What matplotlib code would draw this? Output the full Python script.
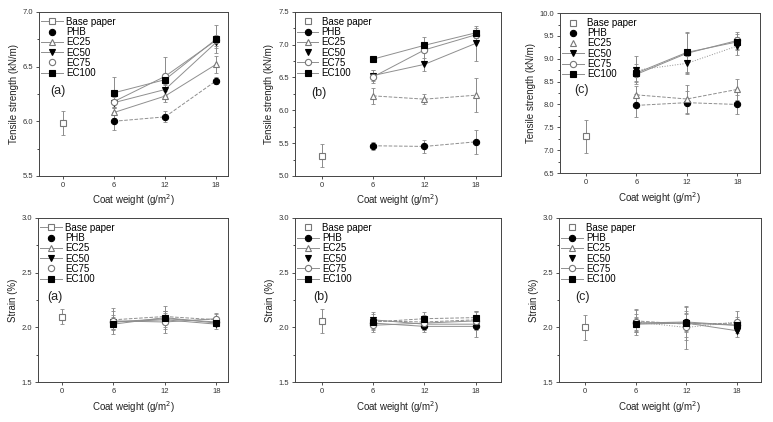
import numpy as np
import matplotlib
matplotlib.use("Agg")
import matplotlib.pyplot as plt
from matplotlib.lines import Line2D

plt.rcParams["font.family"] = ["Liberation Sans", "DejaVu Sans"]

coat = [6, 12, 18]
names = ["PHB", "EC25", "EC50", "EC75", "EC100"]

# tensile strength (kN/m)
ts_base = [5.98, 5.31, 7.30]
ts_base_err = [0.11, 0.17, 0.37]
ts_a = {
    "PHB": [6.00, 6.04, 6.37],
    "EC25": [6.08, 6.23, 6.52],
    "EC50": [6.17, 6.29, 6.72],
    "EC75": [6.18, 6.41, 6.74],
    "EC100": [6.26, 6.38, 6.75],
}
ts_a_err = {
    "PHB": [0.08, 0.05, 0.03],
    "EC25": [0.05, 0.05, 0.08],
    "EC50": [0.05, 0.05, 0.05],
    "EC75": [0.05, 0.18, 0.05],
    "EC100": [0.14, 0.05, 0.13],
}
ts_b = {
    "PHB": [5.46, 5.45, 5.52],
    "EC25": [6.22, 6.17, 6.23],
    "EC50": [6.53, 6.70, 7.02],
    "EC75": [6.51, 6.92, 7.15],
    "EC100": [6.78, 6.99, 7.18],
}
ts_b_err = {
    "PHB": [0.06, 0.10, 0.18],
    "EC25": [0.12, 0.08, 0.26],
    "EC50": [0.08, 0.10, 0.27],
    "EC75": [0.10, 0.20, 0.05],
    "EC100": [0.05, 0.05, 0.08],
}
ts_c = {
    "PHB": [7.98, 8.04, 8.00],
    "EC25": [8.21, 8.12, 8.33],
    "EC50": [8.75, 8.90, 9.28],
    "EC75": [8.66, 9.12, 9.40],
    "EC100": [8.69, 9.14, 9.37],
}
ts_c_err = {
    "PHB": [0.25, 0.25, 0.20],
    "EC25": [0.20, 0.30, 0.23],
    "EC50": [0.30, 0.20, 0.20],
    "EC75": [0.15, 0.45, 0.18],
    "EC100": [0.20, 0.45, 0.18],
}

# strain (%)
st_base = [2.10, 2.06, 2.00]
st_base_err = [0.07, 0.11, 0.11]
st_a = {
    "PHB": [2.05, 2.08, 2.05],
    "EC25": [2.07, 2.10, 2.07],
    "EC50": [2.05, 2.07, 2.03],
    "EC75": [2.06, 2.05, 2.08],
    "EC100": [2.03, 2.09, 2.04],
}
st_a_err = {
    "PHB": [0.05, 0.05, 0.03],
    "EC25": [0.08, 0.10, 0.05],
    "EC50": [0.06, 0.08, 0.04],
    "EC75": [0.12, 0.10, 0.05],
    "EC100": [0.05, 0.06, 0.03],
}
st_b = {
    "PHB": [2.04, 2.01, 2.01],
    "EC25": [2.06, 2.05, 2.07],
    "EC50": [2.07, 2.03, 2.03],
    "EC75": [2.02, 2.04, 2.06],
    "EC100": [2.05, 2.08, 2.09],
}
st_b_err = {
    "PHB": [0.05, 0.05, 0.03],
    "EC25": [0.08, 0.06, 0.08],
    "EC50": [0.05, 0.05, 0.12],
    "EC75": [0.06, 0.06, 0.05],
    "EC100": [0.05, 0.06, 0.05],
}
st_c = {
    "PHB": [2.04, 2.05, 2.02],
    "EC25": [2.06, 2.03, 2.04],
    "EC50": [2.04, 2.04, 1.97],
    "EC75": [2.05, 2.00, 2.05],
    "EC100": [2.03, 2.04, 2.02],
}
st_c_err = {
    "PHB": [0.06, 0.08, 0.05],
    "EC25": [0.10, 0.12, 0.06],
    "EC50": [0.08, 0.08, 0.06],
    "EC75": [0.12, 0.20, 0.10],
    "EC100": [0.06, 0.15, 0.05],
}

styles = {
    "Base paper": dict(marker="s", mfc="white", mec="#777777"),
    "PHB": dict(marker="o", mfc="black", mec="black"),
    "EC25": dict(marker="^", mfc="white", mec="#777777"),
    "EC50": dict(marker="v", mfc="black", mec="black"),
    "EC75": dict(marker="o", mfc="white", mec="#777777"),
    "EC100": dict(marker="s", mfc="black", mec="black"),
}

# which legend entries show a line in each panel (as drawn in the source figure)
legend_lines = [
    [True, False, True, True, False, True],
    [False, True, True, False, True, True],
    [False, False, False, True, True, True],
    [True, False, True, True, False, True],
    [False, True, True, False, True, True],
    [False, True, True, False, True, True],
]

panels = [
    (ts_a, ts_a_err, ts_base[0], ts_base_err[0], (5.5, 7.0), 0.5, "(a)", "Tensile strength (kN/m)",
     {"PHB": "--"}),
    (ts_b, ts_b_err, ts_base[1], ts_base_err[1], (5.0, 7.5), 0.5, "(b)", "Tensile strength (kN/m)",
     {"PHB": "--", "EC25": "--"}),
    (ts_c, ts_c_err, ts_base[2], ts_base_err[2], (6.5, 10.0), 0.5, "(c)", "Tensile strength (kN/m)",
     {"PHB": "--", "EC25": "--", "EC50": ":"}),
    (st_a, st_a_err, st_base[0], st_base_err[0], (1.5, 3.0), 0.5, "(a)", "Strain (%)",
     {"EC25": "--"}),
    (st_b, st_b_err, st_base[1], st_base_err[1], (1.5, 3.0), 0.5, "(b)", "Strain (%)",
     {"EC25": "--", "EC100": "--"}),
    (st_c, st_c_err, st_base[2], st_base_err[2], (1.5, 3.0), 0.5, "(c)", "Strain (%)",
     {"EC25": "--", "EC75": ":"}),
]

# axes rectangles in figure fractions
rects = [
    [0.0505, 0.583, 0.2445, 0.389],
    [0.381, 0.583, 0.2666, 0.389],
    [0.7245, 0.590, 0.2587, 0.379],
    [0.049, 0.094, 0.2465, 0.390],
    [0.3816, 0.094, 0.2663, 0.390],
    [0.7232, 0.094, 0.2609, 0.390],
]
xlims = [(-2.8, 19.4), (-3.2, 20.9), (-3.1, 20.7), (-2.8, 19.4), (-3.1, 20.9), (-3.1, 20.8)]
label_pos = [(0.06, 0.50), (0.08, 0.49), (0.07, 0.50), (0.05, 0.50), (0.09, 0.50), (0.08, 0.50)]

fig = plt.figure(figsize=(7.73, 4.22), dpi=100)

for i, (data, err, b, be, ylim, step, tag, ylab, ls_map) in enumerate(panels):
    ax = fig.add_axes(rects[i])
    ecol = "#8a8a8a"
    ax.errorbar([0], [b], yerr=[be], fmt="none", ecolor=ecol, elinewidth=0.7, capsize=1.5, capthick=0.6)
    ax.plot([0], [b], linestyle="none", ms=4.5, mew=0.8, **styles["Base paper"])
    for n in names:
        ax.errorbar(coat, data[n], yerr=err[n], fmt="none", ecolor=ecol, elinewidth=0.7,
                    capsize=1.5, capthick=0.6, zorder=2)
        ax.plot(coat, data[n], color="#8f8f8f", lw=0.7, linestyle=ls_map.get(n, "-"),
                ms=4.5, mew=0.8, zorder=3, **styles[n])

    ax.set_xlim(*xlims[i])
    ax.set_ylim(*ylim)
    ax.set_xticks([0, 6, 12, 18])
    ax.set_yticks(np.arange(ylim[0], ylim[1] + 0.01, step))
    ax.set_yticks(np.arange(ylim[0] + step / 2, ylim[1], step), minor=True)
    ax.set_yticklabels([f"{v:.1f}" for v in np.arange(ylim[0], ylim[1] + 0.01, step)])
    ax.tick_params(axis="both", which="major", direction="out", length=2.5, width=0.6,
                   labelsize=5.5, colors="#333333", pad=1.5)
    ax.tick_params(axis="y", which="minor", direction="out", length=1.5, width=0.5)
    for sp in ax.spines.values():
        sp.set_linewidth(0.7)
        sp.set_color("#444444")
    ax.set_xlabel("Coat weight (g/m$^2$)", fontsize=7, labelpad=3, color="#222222")
    ax.set_ylabel(ylab, fontsize=7, labelpad=3, color="#222222")
    ax.text(label_pos[i][0], label_pos[i][1], tag, transform=ax.transAxes, fontsize=9,
            color="#222222")

    handles = []
    for name, show_line in zip(["Base paper"] + names, legend_lines[i]):
        handles.append(Line2D([], [], color="#8f8f8f", lw=0.7 if show_line else 0,
                              ms=4.5, mew=0.8, **styles[name]))
    ax.legend(handles, ["Base paper"] + names, loc="upper left", frameon=False, fontsize=7,
              handlelength=2.2, handletextpad=0.35, labelspacing=0.03, borderaxespad=0.0,
              borderpad=0.25, bbox_to_anchor=(0.0, 0.985))

fig.savefig("out.png", dpi=100)
